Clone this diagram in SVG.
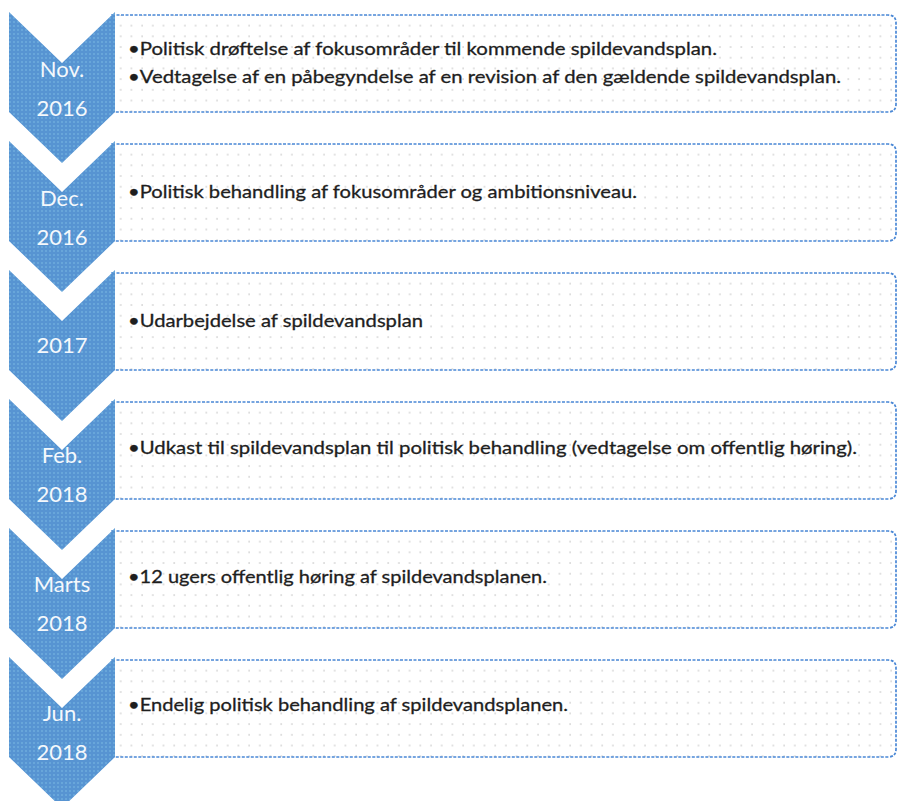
<svg xmlns="http://www.w3.org/2000/svg" width="898" height="801" viewBox="0 0 898 801">
<defs>
<pattern id="boxdots" x="0" y="0" width="10.7" height="10.7" patternUnits="userSpaceOnUse">
<rect width="10.7" height="10.7" fill="#ffffff"/>
<circle cx="3" cy="3" r="0.75" fill="#b8b8b8"/>
</pattern>
<pattern id="chevdots" x="0" y="0" width="4" height="4" patternUnits="userSpaceOnUse">
<rect width="4" height="4" fill="#5794d2"/>
<circle cx="2" cy="2" r="0.7" fill="#86c6ea"/>
</pattern>
<path id="chev" d="M9 0 L62 51 L115 0 L115 100 L62 151 L9 100 Z"/>
<path id="box" d="M112 3 L888 3 Q896 3 896 11 L896 92 Q896 100 888 100 L112 100 Z"/>
</defs>
<style>
.box{fill:url(#boxdots);stroke:#4a88d6;stroke-width:1.7;stroke-dasharray:3 1.5}
.chev{fill:url(#chevdots)}
.lbl{font-family:Lato,"Liberation Sans",sans-serif;font-size:22px;fill:#f4f8fc;text-anchor:middle}
.txt{font-family:Lato,"Liberation Sans",sans-serif;font-size:18px;fill:#1e1e1e;stroke:#1e1e1e;stroke-width:0.3}
</style>
<rect width="898" height="801" fill="#ffffff"/>
<g id="connectors"/>
<g id="step1" transform="translate(0,12)">
<use href="#box" class="box"/>
<use href="#chev" class="chev"/>
<text class="lbl" x="62" y="65">Nov.</text>
<text class="lbl" x="62" y="104">2016</text>
<text class="txt" x="128" y="43" textLength="589" lengthAdjust="spacingAndGlyphs">•Politisk drøftelse af fokusområder til kommende spildevandsplan.</text>
<text class="txt" x="128" y="71" textLength="713" lengthAdjust="spacingAndGlyphs">•Vedtagelse af en påbegyndelse af en revision af den gældende spildevandsplan.</text>
</g>
<g id="step2" transform="translate(0,141)">
<use href="#box" class="box"/>
<use href="#chev" class="chev"/>
<text class="lbl" x="62" y="65">Dec.</text>
<text class="lbl" x="62" y="104">2016</text>
<text class="txt" x="128" y="57" textLength="509" lengthAdjust="spacingAndGlyphs">•Politisk behandling af fokusområder og ambitionsniveau.</text>
</g>
<g id="step3" transform="translate(0,270)">
<use href="#box" class="box"/>
<use href="#chev" class="chev"/>
<text class="lbl" x="62" y="83">2017</text>
<text class="txt" x="128" y="57" textLength="295" lengthAdjust="spacingAndGlyphs">•Udarbejdelse af spildevandsplan</text>
</g>
<g id="step4" transform="translate(0,399)">
<use href="#box" class="box"/>
<use href="#chev" class="chev"/>
<text class="lbl" x="62" y="64">Feb.</text>
<text class="lbl" x="62" y="103">2018</text>
<text class="txt" x="128" y="55" textLength="729" lengthAdjust="spacingAndGlyphs">•Udkast til spildevandsplan til politisk behandling (vedtagelse om offentlig høring).</text>
</g>
<g id="step5" transform="translate(0,528)">
<use href="#box" class="box"/>
<use href="#chev" class="chev"/>
<text class="lbl" x="62" y="64">Marts</text>
<text class="lbl" x="62" y="103">2018</text>
<text class="txt" x="128" y="55" textLength="419" lengthAdjust="spacingAndGlyphs">•12 ugers offentlig høring af spildevandsplanen.</text>
</g>
<g id="step6" transform="translate(0,657)">
<use href="#box" class="box"/>
<use href="#chev" class="chev"/>
<text class="lbl" x="62" y="64">Jun.</text>
<text class="lbl" x="62" y="103">2018</text>
<text class="txt" x="128" y="54" textLength="440" lengthAdjust="spacingAndGlyphs">•Endelig politisk behandling af spildevandsplanen.</text>
</g>
</svg>
